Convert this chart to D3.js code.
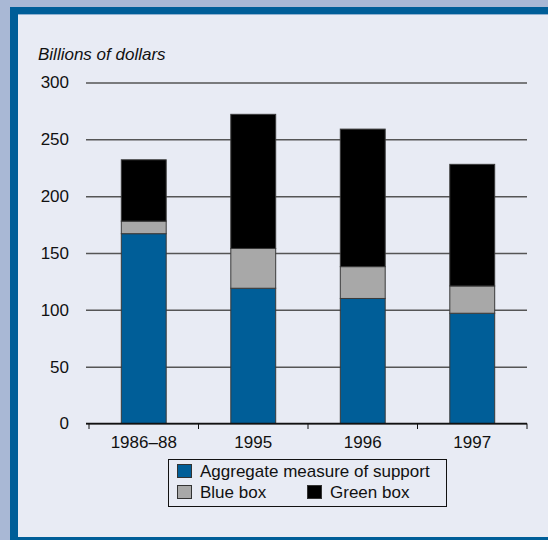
<!DOCTYPE html>
<html><head><meta charset="utf-8">
<script src="https://cdn.jsdelivr.net/npm/d3@7"></script>
<style>body{margin:0;padding:0;background:#a9b8d5;}svg{display:block;}</style>
</head><body>
<svg id="c" width="548" height="540"></svg>
<script>
const categories = ["1986\u201388", "1995", "1996", "1997"];
const amsValues = [167, 119, 110, 97];
const blueBoxValues = [11, 35, 28, 24];
const greenBoxValues = [54, 118, 121, 107];
const yTicks = [0, 50, 100, 150, 200, 250, 300];
const seriesNames = ["Aggregate measure of support", "Blue box", "Green box"];
const seriesColors = ["#005e98", "#a8a8a8", "#000000"];

const svg = d3.select("#c");
// frame
svg.append("rect").attr("x", 0).attr("y", 0).attr("width", 548).attr("height", 540).attr("fill", "#a9b8d5");
svg.append("rect").attr("x", 10).attr("y", 7).attr("width", 548).attr("height", 540).attr("fill", "#005e98");
svg.append("rect").attr("x", 18).attr("y", 14).attr("width", 548).attr("height", 523).attr("fill", "#e8ebf4");
svg.append("line").attr("x1", 18).attr("x2", 548).attr("y1", 14.5).attr("y2", 14.5).attr("stroke", "#8fb0d0").attr("stroke-width", 1);

const font = "'Liberation Sans', Arial, Helvetica, sans-serif";
const fs = 17;
const x = d3.scaleBand().domain(categories).range([89, 527]).paddingInner(0.59).paddingOuter(0.295);
const y = d3.scaleLinear().domain([0, 300]).range([423.5, 82.5]);

// gridlines
const yAxis = d3.axisLeft(y).tickValues(yTicks).tickSize(-(527 - 86)).tickPadding(17).tickFormat(d3.format("d"));
const gy = svg.append("g").attr("transform", "translate(86,0)").call(yAxis);
gy.attr("font-size", fs).attr("font-family", font);
gy.select(".domain").remove();
gy.selectAll(".tick line").attr("stroke", "#555").attr("stroke-width", 1.5);
gy.selectAll(".tick text").attr("font-family", font).attr("font-size", fs).attr("fill", "#111");

// stacked data
const table = categories.map((c, i) => ({cat: c, ams: amsValues[i], blue: blueBoxValues[i], green: greenBoxValues[i]}));
const stack = d3.stack().keys(["ams", "blue", "green"])(table);
stack.forEach((layer, li) => {
  svg.append("g").selectAll("rect").data(layer).join("rect")
    .attr("x", d => x(d.data.cat))
    .attr("width", x.bandwidth())
    .attr("y", d => y(d[1]))
    .attr("height", d => y(d[0]) - y(d[1]))
    .attr("fill", seriesColors[li])
    .attr("stroke", "#3a3a3a").attr("stroke-width", 1);
});

// x axis
svg.append("line").attr("x1", 86).attr("x2", 527).attr("y1", 423.5).attr("y2", 423.5).attr("stroke", "#111").attr("stroke-width", 1.5);
svg.append("g").selectAll("line").data(x.domain().map((c, i) => i === 0 ? x(c) - x.step() * x.paddingOuter() : x(c) - x.step() * x.paddingInner() / 2).concat([527]))
  .join("line").attr("x1", d => d).attr("x2", d => d).attr("y1", 423.5).attr("y2", 429).attr("stroke", "#111").attr("stroke-width", 1);
svg.append("g").selectAll("text").data(categories).join("text")
  .attr("x", d => x(d) + x.bandwidth() / 2).attr("y", 448)
  .attr("text-anchor", "middle").attr("font-family", font).attr("font-size", fs).attr("fill", "#111")
  .text(d => d);

// y title
svg.append("text").attr("x", 38).attr("y", 60).attr("font-family", font).attr("font-size", fs)
  .attr("font-style", "italic").attr("fill", "#111").text("Billions of dollars");

// legend
const lg = svg.append("g");
lg.append("rect").attr("x", 168.5).attr("y", 459.5).attr("width", 278).attr("height", 47).attr("fill", "none").attr("stroke", "#111").attr("stroke-width", 1);
const legendPos = [[177, 464], [177, 485], [307, 485]];
seriesNames.forEach((n, i) => {
  const [lx, ly] = legendPos[i];
  lg.append("rect").attr("x", lx + 0.5).attr("y", ly + 0.5).attr("width", 14).attr("height", 13)
    .attr("fill", seriesColors[i]).attr("stroke", "#333").attr("stroke-width", 1);
  lg.append("text").attr("x", lx + 23).attr("y", ly + 13).attr("font-family", font).attr("font-size", fs)
    .attr("fill", "#111").text(n);
});
</script>
</body></html>
